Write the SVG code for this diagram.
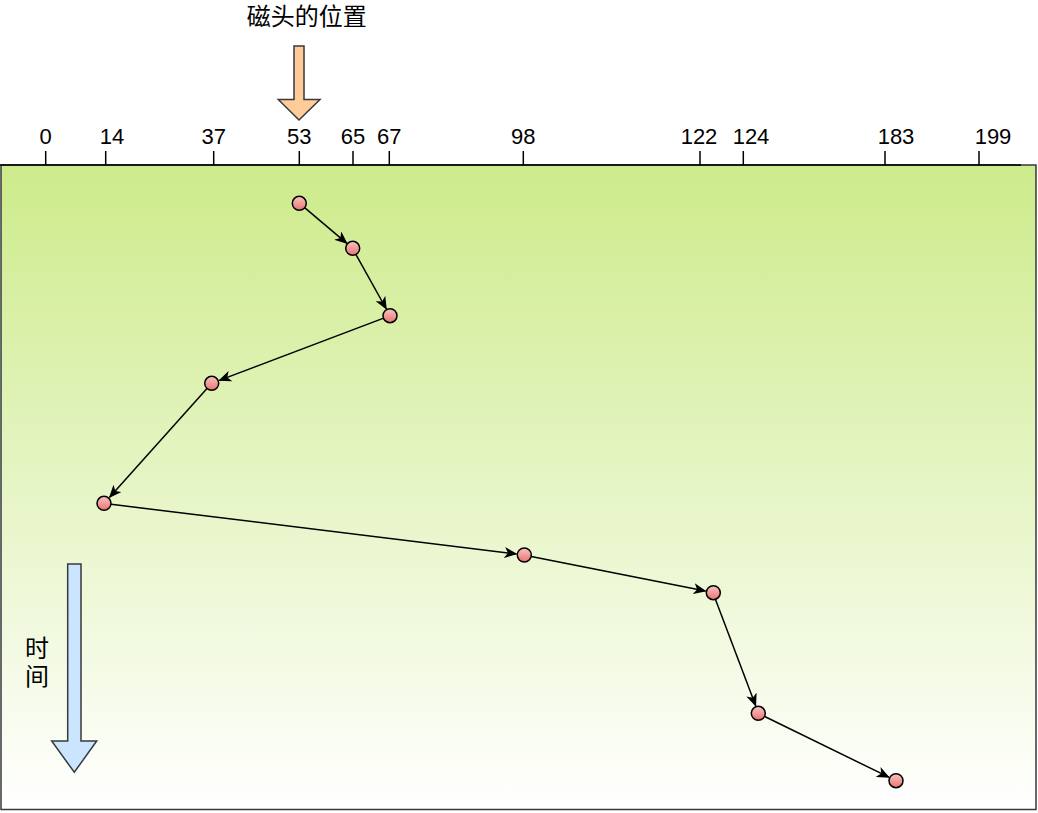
<svg xmlns="http://www.w3.org/2000/svg" width="1038" height="813" viewBox="0 0 1038 813">
<defs>
<linearGradient id="bg" x1="0" y1="0" x2="0" y2="1">
<stop offset="0" stop-color="#cdeb8b"/>
<stop offset="1" stop-color="#ffffff"/>
</linearGradient>
<linearGradient id="dot" x1="0" y1="0" x2="0" y2="1">
<stop offset="0" stop-color="#f8c4c2"/>
<stop offset="1" stop-color="#ea7471"/>
</linearGradient>
<marker id="arr" viewBox="0 0 13 11" refX="12" refY="5.5" markerWidth="13" markerHeight="11" markerUnits="userSpaceOnUse" orient="auto">
<path d="M0,0 L13,5.5 L0,11 L3.5,5.5 Z" fill="#000"/>
</marker>
</defs>
<style>
.lbl{font-family:"Liberation Sans",Arial,sans-serif;font-size:22px;fill:#000;text-anchor:middle}
.cjk{font-family:"Liberation Sans","Noto Sans CJK SC",sans-serif;font-size:24px;fill:#000;text-anchor:middle}
.tick{stroke:#000;stroke-width:1.5}
.dot{fill:url(#dot);stroke:#000;stroke-width:1.5}
.edge{stroke:#000;stroke-width:1.5;fill:none;marker-end:url(#arr)}
.big{stroke:#36393d;stroke-width:1.5}
</style>
<g id="panel">
<rect x="1" y="165" width="1035" height="644.5" fill="url(#bg)" stroke="#36393d" stroke-width="1.5"/>
</g>
<g id="axis">
<line x1="0" y1="165" x2="1021" y2="165" class="tick"/>
<line class="tick" x1="45.7" y1="151" x2="45.7" y2="165"/><text class="lbl" x="45.7" y="144">0</text>
<line class="tick" x1="105.7" y1="151" x2="105.7" y2="165"/><text class="lbl" x="112" y="144">14</text>
<line class="tick" x1="213.7" y1="151" x2="213.7" y2="165"/><text class="lbl" x="213.7" y="144">37</text>
<line class="tick" x1="299.3" y1="151" x2="299.3" y2="165"/><text class="lbl" x="299.3" y="144">53</text>
<line class="tick" x1="353" y1="151" x2="353" y2="165"/><text class="lbl" x="353" y="144">65</text>
<line class="tick" x1="389.3" y1="151" x2="389.3" y2="165"/><text class="lbl" x="389.3" y="144">67</text>
<line class="tick" x1="523.3" y1="151" x2="523.3" y2="165"/><text class="lbl" x="523.3" y="144">98</text>
<line class="tick" x1="700" y1="151" x2="700" y2="165"/><text class="lbl" x="699" y="144">122</text>
<line class="tick" x1="743.3" y1="151" x2="743.3" y2="165"/><text class="lbl" x="751" y="144">124</text>
<line class="tick" x1="885" y1="151" x2="885" y2="165"/><text class="lbl" x="896" y="144">183</text>
<line class="tick" x1="979" y1="151" x2="979" y2="165"/><text class="lbl" x="993" y="144">199</text>
</g>
<g id="head-label">
<text class="cjk" x="306.7" y="25">磁头的位置</text>
</g>
<g id="head-arrow">
<path class="big" d="M294,46 L304,46 L304,99.5 L320,99.5 L299,120 L278.3,99.5 L294,99.5 Z" fill="#ffcc99"/>
</g>
<g id="time-arrow">
<path class="big" d="M67.7,564 L81,564 L81,741 L96.7,741 L74.3,772.3 L51.7,741 L67.7,741 Z" fill="#cce5ff"/>
</g>
<g id="time-label">
<text class="cjk" x="37" y="657">时</text>
<text class="cjk" x="37" y="685">间</text>
</g>
<g id="connectors">
<line class="edge" x1="304.3" y1="207.4" x2="346.9" y2="243.4"/>
<line class="edge" x1="356" y1="254.7" x2="386.3" y2="309"/>
<line class="edge" x1="383" y1="318.4" x2="219.3" y2="380.4"/>
<line class="edge" x1="207" y1="388.6" x2="109.6" y2="497.3"/>
<line class="edge" x1="111.1" y1="504.3" x2="516.4" y2="554"/>
<line class="edge" x1="531.2" y1="556.4" x2="705.5" y2="591.1"/>
<line class="edge" x1="715.5" y1="599.4" x2="755.7" y2="705.8"/>
<line class="edge" x1="764.7" y1="716.5" x2="888.9" y2="777.2"/>
</g>
<g id="n1"><circle class="dot" cx="299.3" cy="203.3" r="7"/></g>
<g id="n2"><circle class="dot" cx="352.7" cy="248.3" r="7"/></g>
<g id="n3"><circle class="dot" cx="390" cy="315.7" r="7"/></g>
<g id="n4"><circle class="dot" cx="211.7" cy="383.3" r="7"/></g>
<g id="n5"><circle class="dot" cx="104" cy="503.3" r="7"/></g>
<g id="n6"><circle class="dot" cx="524.3" cy="555" r="7"/></g>
<g id="n7"><circle class="dot" cx="713.3" cy="592.7" r="7"/></g>
<g id="n8"><circle class="dot" cx="758.3" cy="713.3" r="7"/></g>
<g id="n9"><circle class="dot" cx="896" cy="780.7" r="7"/></g>
</svg>
